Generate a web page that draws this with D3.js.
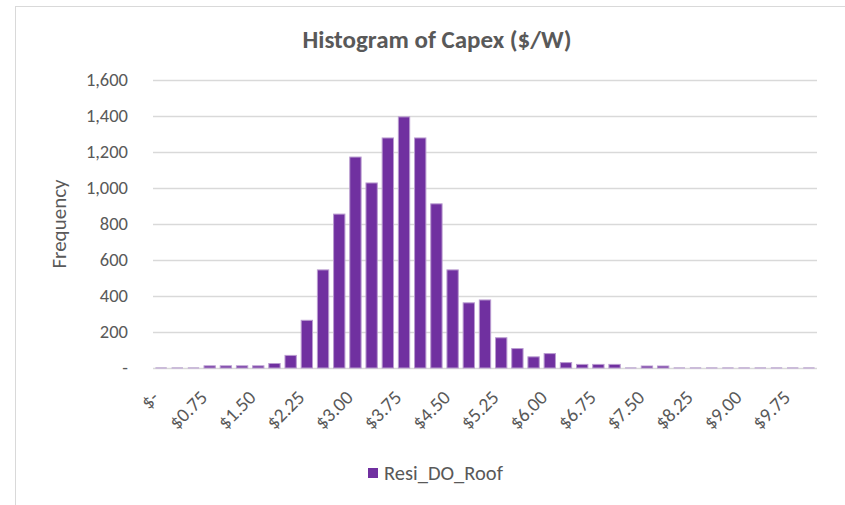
<!DOCTYPE html>
<html>
<head>
<meta charset="utf-8">
<script src="https://cdn.jsdelivr.net/npm/d3@7"></script>
<style>
  body { margin: 0; background: #fff; }
  text { font-family: Carlito, Calibri, Lato, sans-serif; fill: #595959; }
</style>
</head>
<body>
<div id="chart"></div>
<script>
// Bin upper edges ($/W) and counts
const bins = ["0", "0.25", "0.50", "0.75", "1.00", "1.25", "1.50", "1.75", "2.00", "2.25",
  "2.50", "2.75", "3.00", "3.25", "3.50", "3.75", "4.00", "4.25", "4.50", "4.75",
  "5.00", "5.25", "5.50", "5.75", "6.00", "6.25", "6.50", "6.75", "7.00", "7.25",
  "7.50", "7.75", "8.00", "8.25", "8.50", "8.75", "9.00", "9.25", "9.50", "9.75", "10.00"];
const counts = [0, 0, 0, 12, 12, 12, 12, 25, 70, 265,
  545, 855, 1172, 1028, 1278, 1395, 1278, 912, 545, 362,
  378, 168, 108, 62, 80, 30, 20, 20, 20, 0,
  11, 11, 0, 0, 0, 0, 0, 0, 0, 0, 0];
const shownLabels = ["0", "0.75", "1.50", "2.25", "3.00", "3.75", "4.50", "5.25", "6.00",
  "6.75", "7.50", "8.25", "9.00", "9.75"];
const yTicks = [0, 200, 400, 600, 800, 1000, 1200, 1400, 1600];
const seriesName = "Resi_DO_Roof";

const W = 845, H = 505;
const plot = { left: 153, right: 817, top: 80, bottom: 368 };

const svg = d3.select("#chart").append("svg")
    .attr("width", W)
    .attr("height", H);

// chart frame
svg.append("rect")
    .attr("x", 15.5).attr("y", 6.5)
    .attr("width", W).attr("height", H)
    .attr("fill", "#fff")
    .attr("stroke", "#d9d9d9");

const x = d3.scaleBand()
    .domain(bins)
    .range([plot.left, plot.right])
    .paddingInner(0.3)
    .paddingOuter(0.15);

const y = d3.scaleLinear()
    .domain([0, 1600])
    .range([plot.bottom, plot.top]);

// gridlines
svg.append("g")
    .selectAll("line")
    .data(yTicks)
    .enter().append("line")
    .attr("x1", plot.left).attr("x2", plot.right)
    .attr("y1", d => Math.round(y(d)) + 0.5)
    .attr("y2", d => Math.round(y(d)) + 0.5)
    .attr("stroke", "#d9d9d9")
    .attr("stroke-width", 1.3);

// y axis labels
const yAxis = svg.append("g")
    .attr("transform", "translate(" + (plot.left - 25) + ",0)")
    .call(d3.axisLeft(y)
        .tickValues(yTicks)
        .tickSize(0)
        .tickFormat(d => d === 0 ? "-" : d3.format(",")(d)));
yAxis.select(".domain").remove();
yAxis.selectAll("text")
    .attr("x", 0)
    .style("font-size", "18.5px");

// bars
svg.append("g")
    .selectAll("rect")
    .data(counts)
    .enter().append("rect")
    .attr("x", (d, i) => x(bins[i]))
    .attr("width", x.bandwidth())
    .attr("y", d => d > 0 ? y(d) : plot.bottom - 1)
    .attr("height", d => d > 0 ? plot.bottom - y(d) : 2)
    .attr("fill", d => d > 0 ? "#7030A0" : "#cbbcd9")
    .attr("stroke", d => d > 0 ? "#b99bd0" : "none")
    .attr("stroke-width", 1);

// x axis labels (rotated)
const xAxis = svg.append("g")
    .attr("transform", "translate(-6," + (plot.bottom + 26) + ")")
    .call(d3.axisBottom(x)
        .tickValues(shownLabels)
        .tickSize(0)
        .tickFormat(d => d === "0" ? "$-" : "$" + d));
xAxis.select(".domain").remove();
xAxis.selectAll("text")
    .attr("y", 0)
    .attr("dy", "0.35em")
    .attr("text-anchor", "end")
    .attr("transform", "rotate(-45)")
    .style("font-size", "19.5px");

// title
svg.append("text")
    .attr("x", 437)
    .attr("y", 48)
    .attr("text-anchor", "middle")
    .style("font-size", "25px")
    .style("font-weight", "bold")
    .text("Histogram of Capex ($/W)");

// y axis title
svg.append("text")
    .attr("transform", "translate(66," + ((plot.top + plot.bottom) / 2) + ") rotate(-90)")
    .attr("text-anchor", "middle")
    .style("font-size", "21px")
    .text("Frequency");

// legend
svg.append("rect")
    .attr("x", 368).attr("y", 468)
    .attr("width", 10).attr("height", 10)
    .attr("fill", "#7030A0");
svg.append("text")
    .attr("x", 384)
    .attr("y", 480)
    .style("font-size", "20.5px")
    .text(seriesName);
</script>
</body>
</html>
